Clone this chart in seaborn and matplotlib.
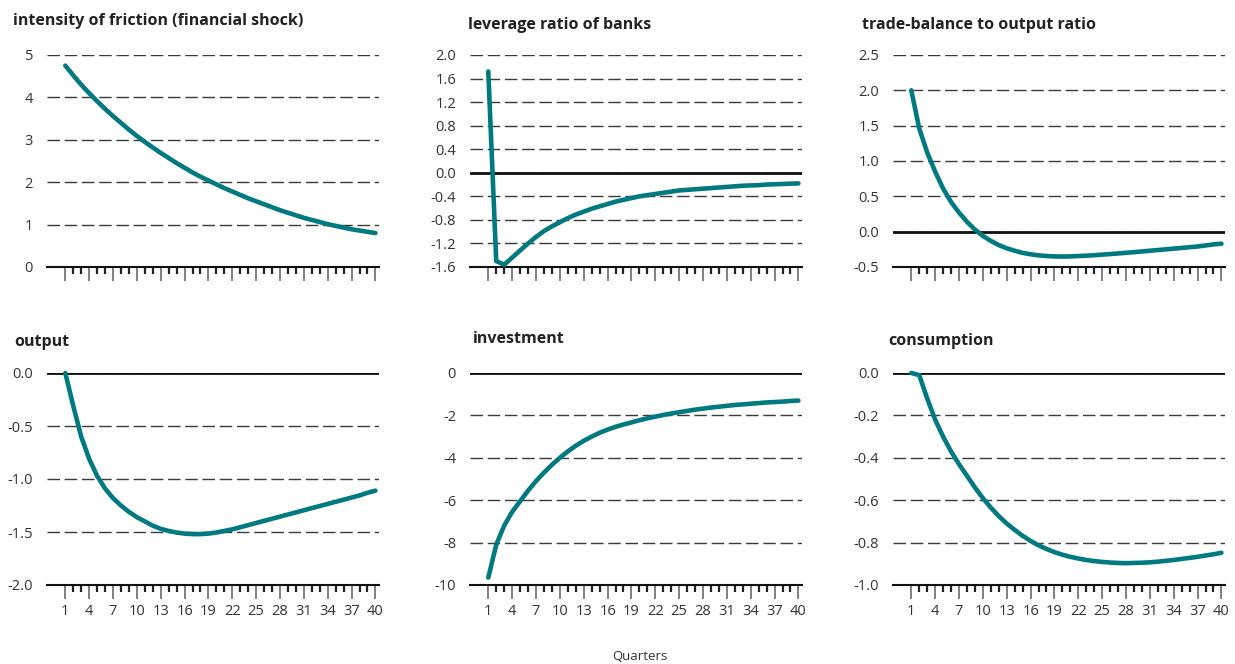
import matplotlib
matplotlib.use("Agg")
import matplotlib.pyplot as plt
import seaborn as sns
import pandas as pd

quarters = list(range(1, 41))

friction = [4.75, 4.52, 4.30, 4.10, 3.91, 3.73, 3.56, 3.40, 3.24, 3.09,
            2.95, 2.82, 2.69, 2.57, 2.45, 2.34, 2.23, 2.13, 2.04, 1.95,
            1.86, 1.78, 1.70, 1.62, 1.55, 1.48, 1.41, 1.34, 1.28, 1.22,
            1.16, 1.11, 1.06, 1.01, 0.97, 0.93, 0.89, 0.86, 0.83, 0.80]

leverage = [1.72, -1.50, -1.56, -1.44, -1.32, -1.20, -1.09, -0.99, -0.91, -0.84,
            -0.77, -0.71, -0.66, -0.61, -0.57, -0.53, -0.49, -0.46, -0.43, -0.40,
            -0.38, -0.36, -0.34, -0.32, -0.30, -0.29, -0.28, -0.27, -0.26, -0.25,
            -0.24, -0.23, -0.22, -0.215, -0.21, -0.20, -0.195, -0.19, -0.185, -0.18]

trade_balance = [2.00, 1.46, 1.12, 0.85, 0.61, 0.42, 0.27, 0.14, 0.03, -0.06,
                 -0.13, -0.19, -0.235, -0.27, -0.30, -0.32, -0.335, -0.345, -0.35, -0.352,
                 -0.35, -0.345, -0.34, -0.333, -0.325, -0.317, -0.308, -0.299, -0.29, -0.28,
                 -0.27, -0.26, -0.25, -0.24, -0.23, -0.22, -0.21, -0.195, -0.18, -0.17]

output = [0.00, -0.31, -0.60, -0.81, -0.97, -1.09, -1.18, -1.25, -1.31, -1.36,
          -1.40, -1.44, -1.47, -1.49, -1.505, -1.515, -1.52, -1.52, -1.515, -1.505,
          -1.49, -1.475, -1.455, -1.435, -1.415, -1.395, -1.375, -1.355, -1.335, -1.315,
          -1.295, -1.275, -1.255, -1.235, -1.215, -1.195, -1.175, -1.155, -1.13, -1.11]

investment = [-9.65, -8.10, -7.20, -6.55, -6.05, -5.55, -5.10, -4.70, -4.33, -4.00,
              -3.70, -3.43, -3.20, -3.00, -2.82, -2.67, -2.54, -2.43, -2.33, -2.23,
              -2.14, -2.06, -1.98, -1.91, -1.85, -1.79, -1.73, -1.68, -1.63, -1.59,
              -1.55, -1.51, -1.48, -1.45, -1.42, -1.39, -1.37, -1.35, -1.32, -1.30]

consumption = [0.00, -0.01, -0.12, -0.22, -0.30, -0.37, -0.43, -0.485, -0.54, -0.59,
               -0.635, -0.675, -0.71, -0.74, -0.768, -0.792, -0.813, -0.83, -0.845, -0.857,
               -0.867, -0.875, -0.882, -0.887, -0.891, -0.894, -0.896, -0.897, -0.896, -0.895,
               -0.893, -0.89, -0.886, -0.882, -0.877, -0.872, -0.867, -0.861, -0.855, -0.848]

titles = ["intensity of friction (financial shock)", "leverage ratio of banks",
          "trade-balance to output ratio", "output", "investment", "consumption"]

yticks_friction = [0, 1, 2, 3, 4, 5]
yticks_leverage = [-1.6, -1.2, -0.8, -0.4, 0.0, 0.4, 0.8, 1.2, 1.6, 2.0]
yticks_trade = [-0.5, 0.0, 0.5, 1.0, 1.5, 2.0, 2.5]
yticks_output = [-2.0, -1.5, -1.0, -0.5, 0.0]
yticks_investment = [-10, -8, -6, -4, -2, 0]
yticks_consumption = [-1.0, -0.8, -0.6, -0.4, -0.2, 0.0]

TEAL = "#007a80"
W, H = 1235, 664

sns.set_style("white")
plt.rcParams['font.family'] = ['Open Sans', 'DejaVu Sans']

panels = [
    (friction, yticks_friction, "{:.0f}"),
    (leverage, yticks_leverage, "{:.1f}"),
    (trade_balance, yticks_trade, "{:.1f}"),
    (output, yticks_output, "{:.1f}"),
    (investment, yticks_investment, "{:.0f}"),
    (consumption, yticks_consumption, "{:.1f}"),
]

lefts = [47, 470, 893]
bottoms = [267, 585]
title_pos = [(13, 21), (468, 25), (862, 25), (14, 342), (473, 339), (888, 341)]

fig = plt.figure(figsize=(W / 100, H / 100), dpi=100)

for i, (vals, ticks, fmt) in enumerate(panels):
    row, col = divmod(i, 3)
    ax = fig.add_axes([lefts[col] / W, 1 - bottoms[row] / H, 332 / W, 212 / H])
    df = pd.DataFrame({'Quarter': quarters, 'Value': vals})
    sns.lineplot(data=df, x='Quarter', y='Value', ax=ax, color=TEAL, linewidth=3.3,
                 solid_capstyle='round', solid_joinstyle='round', zorder=4, clip_on=False)

    ax.set_xlim(-1.3, 40.45)
    ax.set_ylim(ticks[0], ticks[-1])
    ax.set_yticks(ticks)
    ax.set_yticklabels([fmt.format(t) for t in ticks])
    ax.set_xticks(range(1, 41, 3))
    ax.set_xticks([q for q in quarters if (q - 1) % 3 != 0], minor=True)
    ax.set_xlabel('')
    ax.set_ylabel('')

    ax.tick_params(axis='x', which='major', bottom=True, direction='out', length=10,
                   width=1.3, color='#777777', labelsize=10.5, labelcolor='#333333', pad=4)
    ax.tick_params(axis='x', which='minor', bottom=True, direction='out', length=5,
                   width=1.6, color='#222222')
    ax.tick_params(axis='y', left=False, length=0, pad=10, labelsize=10.5,
                   labelcolor='#333333')
    if row == 0:
        ax.tick_params(axis='x', which='both', labelbottom=False)

    for s in ['left', 'right', 'top']:
        ax.spines[s].set_visible(False)
    ax.spines['bottom'].set_color('#111111')
    ax.spines['bottom'].set_linewidth(1.5)

    ax.grid(axis='y', linestyle=(0, (9, 3.4)), color='#3a3a3a', linewidth=1)
    ax.grid(axis='x', visible=False)
    ax.set_axisbelow(True)
    if ticks[0] < 0 < ticks[-1] or ticks[-1] == 0:
        ax.axhline(0, color='#111111', linewidth=2, zorder=3)

    tx, ty = title_pos[i]
    fig.text(tx / W, 1 - ty / H, titles[i], fontsize=11.5, fontweight='bold',
             color='#222222', va='center', ha='left')

fig.text(640 / W, 1 - 656 / H, "Quarters", fontsize=9.5, color='#333333',
         ha='center', va='center')

fig.savefig("out.png", dpi=100)
